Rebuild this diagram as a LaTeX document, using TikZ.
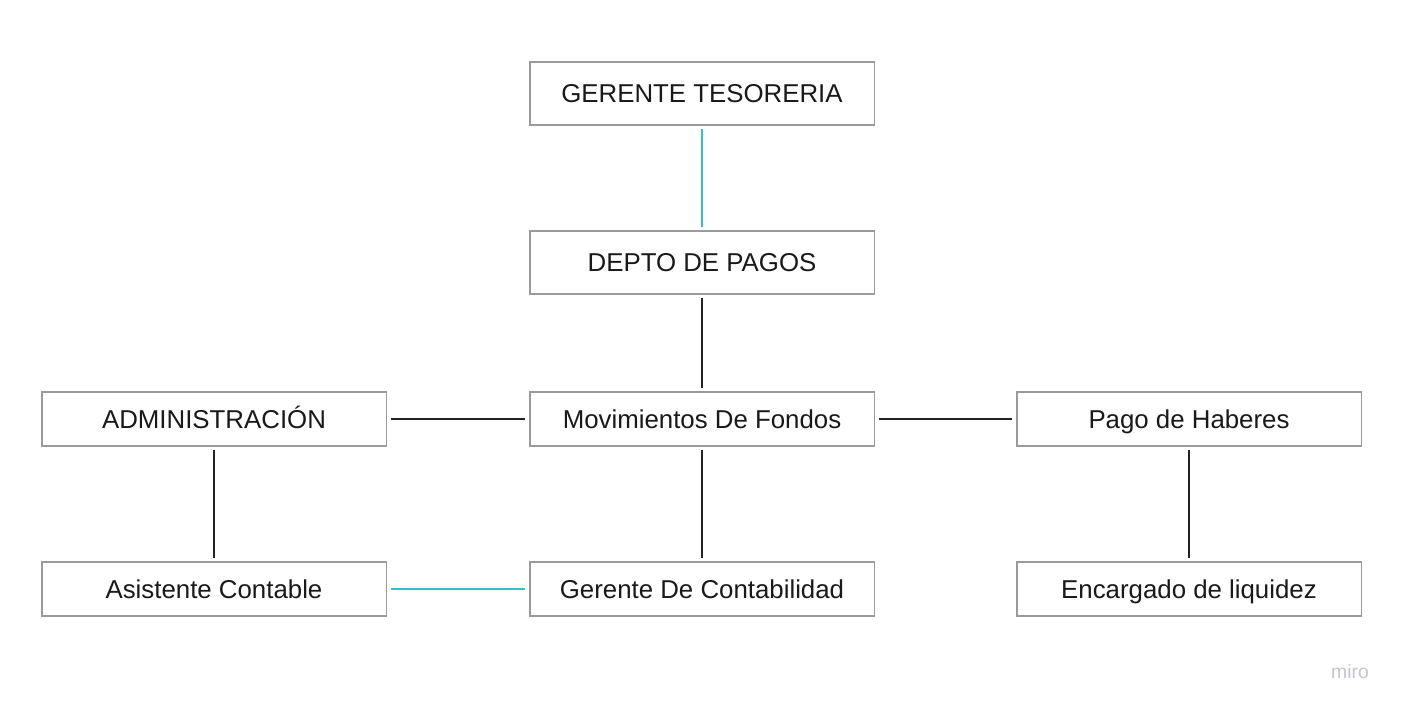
\documentclass[tikz,border=0pt]{standalone}
\usepackage{fontspec}
\setmainfont{Liberation Sans}
\definecolor{boxgray}{HTML}{9A9A9A}
\definecolor{linecyan}{HTML}{2CC3CF}
\definecolor{linedark}{HTML}{222222}
\definecolor{mirogray}{HTML}{C4C4CE}
\begin{document}
\begin{tikzpicture}[x=0.02cm, y=-0.02cm,
    cargo/.style={draw=boxgray, line width=1.1pt, fill=white, minimum width=6.9cm,
        minimum height=1.08cm, inner sep=0pt, text height=10.5pt, text depth=0pt,
        font=\fontsize{14.7}{17}\selectfont, text=black!90},
    alto/.style={minimum height=1.26cm},
    enlace/.style={draw=linedark, line width=1.1pt, shorten <=2pt, shorten >=2pt},
    enlacecyan/.style={draw=linecyan, line width=1.1pt, shorten <=2pt, shorten >=2pt}]
    \useasboundingbox (0,0) rectangle (1404,711);
    \node[cargo, alto] (gerente) at (702,93.5) {GERENTE TESORERIA};
    \node[cargo, alto] (depto) at (702,262.5) {DEPTO DE PAGOS};
    \node[cargo] (admin) at (214,419) {ADMINISTRACIÓN};
    \node[cargo] (movim) at (702,419) {Movimientos De Fondos};
    \node[cargo] (pago) at (1189,419) {Pago de Haberes};
    \node[cargo] (asist) at (214,589) {Asistente Contable};
    \node[cargo] (contab) at (702,589) {Gerente De Contabilidad};
    \node[cargo] (encarg) at (1189,589) {Encargado de liquidez};
    % conexiones
    \draw[enlacecyan] (gerente) -- (depto);
    \draw[enlace] (depto) -- (movim);
    \draw[enlace] (admin) -- (movim);
    \draw[enlace] (movim) -- (pago);
    \draw[enlace] (admin) -- (asist);
    \draw[enlace] (movim) -- (contab);
    \draw[enlace] (pago) -- (encarg);
    \draw[enlacecyan] (asist) -- (contab);
    \node[text=mirogray, font=\fontsize{11}{13}\selectfont] (marca) at (1350,672) {miro};
\end{tikzpicture}
\end{document}
